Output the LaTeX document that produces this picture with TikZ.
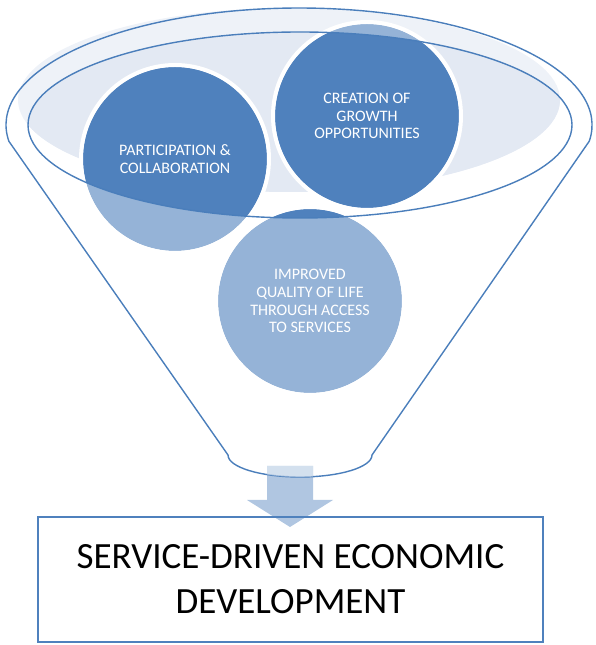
\documentclass[tikz,border=0pt]{standalone}
\usepackage{fontspec}
\setmainfont{Carlito}
\definecolor{bubdark}{HTML}{4F81BD}
\definecolor{bublight}{HTML}{95B3D7}
\definecolor{rimline}{HTML}{4A7EBB}
\definecolor{bandout}{HTML}{EEF2F8}
\definecolor{bandin}{HTML}{E3E9F3}
\tikzset{
  bub/.style={circle, draw=white, line width=4pt, minimum size=188pt, inner sep=0pt, text=white, align=center, font=\fontsize{16}{17.8}\selectfont},
  goalbox/.style={draw=bubdark, line width=1.3pt, minimum width=505pt, minimum height=125pt, align=center, font=\fontsize{37}{45}\selectfont},
  rim/.style={draw=rimline, line width=1.4pt}
}
\begin{document}
\begin{tikzpicture}[x=1pt,y=1pt]
\useasboundingbox (0,0) rectangle (595,645);
\fill[bandout] (289,545) ellipse[x radius=271pt, y radius=92pt];
\begin{scope}
\clip (300,520) ellipse[x radius=272pt, y radius=93pt];
\fill[bandin] (289,545) ellipse[x radius=271pt, y radius=92pt];
\end{scope}
\coordinate (c1) at (175,486);
\coordinate (c2) at (367,529);
\coordinate (c3) at (310,344);
\fill[bublight] (c1) circle[radius=92pt];
\fill[bublight] (c2) circle[radius=92pt];
\fill[bublight] (c3) circle[radius=92pt];
\begin{scope}
\clip (300,520) ellipse[x radius=272pt, y radius=93pt];
\fill[bubdark] (c1) circle[radius=92pt];
\fill[bubdark] (c2) circle[radius=92pt];
\fill[bubdark] (c3) circle[radius=92pt];
\end{scope}
\node[bub] (bub1) at (c1) {PARTICIPATION \&\\COLLABORATION};
\node[bub] (bub2) at (c2) {CREATION OF\\GROWTH\\OPPORTUNITIES};
\node[bub] (bub3) at (c3) {IMPROVED\\QUALITY OF LIFE\\THROUGH ACCESS\\TO SERVICES};
\draw[rim] (300,520) ellipse[x radius=272pt, y radius=93pt];
\draw[rim] (228,190) -- (8.9,503.7) arc[start angle=188, end angle=-8, x radius=293pt, y radius=117pt] -- (372,190) arc[start angle=0, end angle=-180, x radius=72pt, y radius=22pt] -- cycle;
\node[goalbox] (goal) at (290.5,65.5) {SERVICE-DRIVEN ECONOMIC\\DEVELOPMENT};
\fill[bubdark, opacity=.45] (267,179) -- (313,179) -- (313,145) -- (333,145) -- (290,118) -- (247,145) -- (267,145) -- cycle;
\begin{scope}
\clip (228,190) -- (372,190) arc[start angle=0, end angle=-180, x radius=72pt, y radius=22pt] -- cycle;
\fill[white, opacity=.45] (267,179) -- (313,179) -- (313,145) -- (267,145) -- cycle;
\end{scope}
\end{tikzpicture}
\end{document}
